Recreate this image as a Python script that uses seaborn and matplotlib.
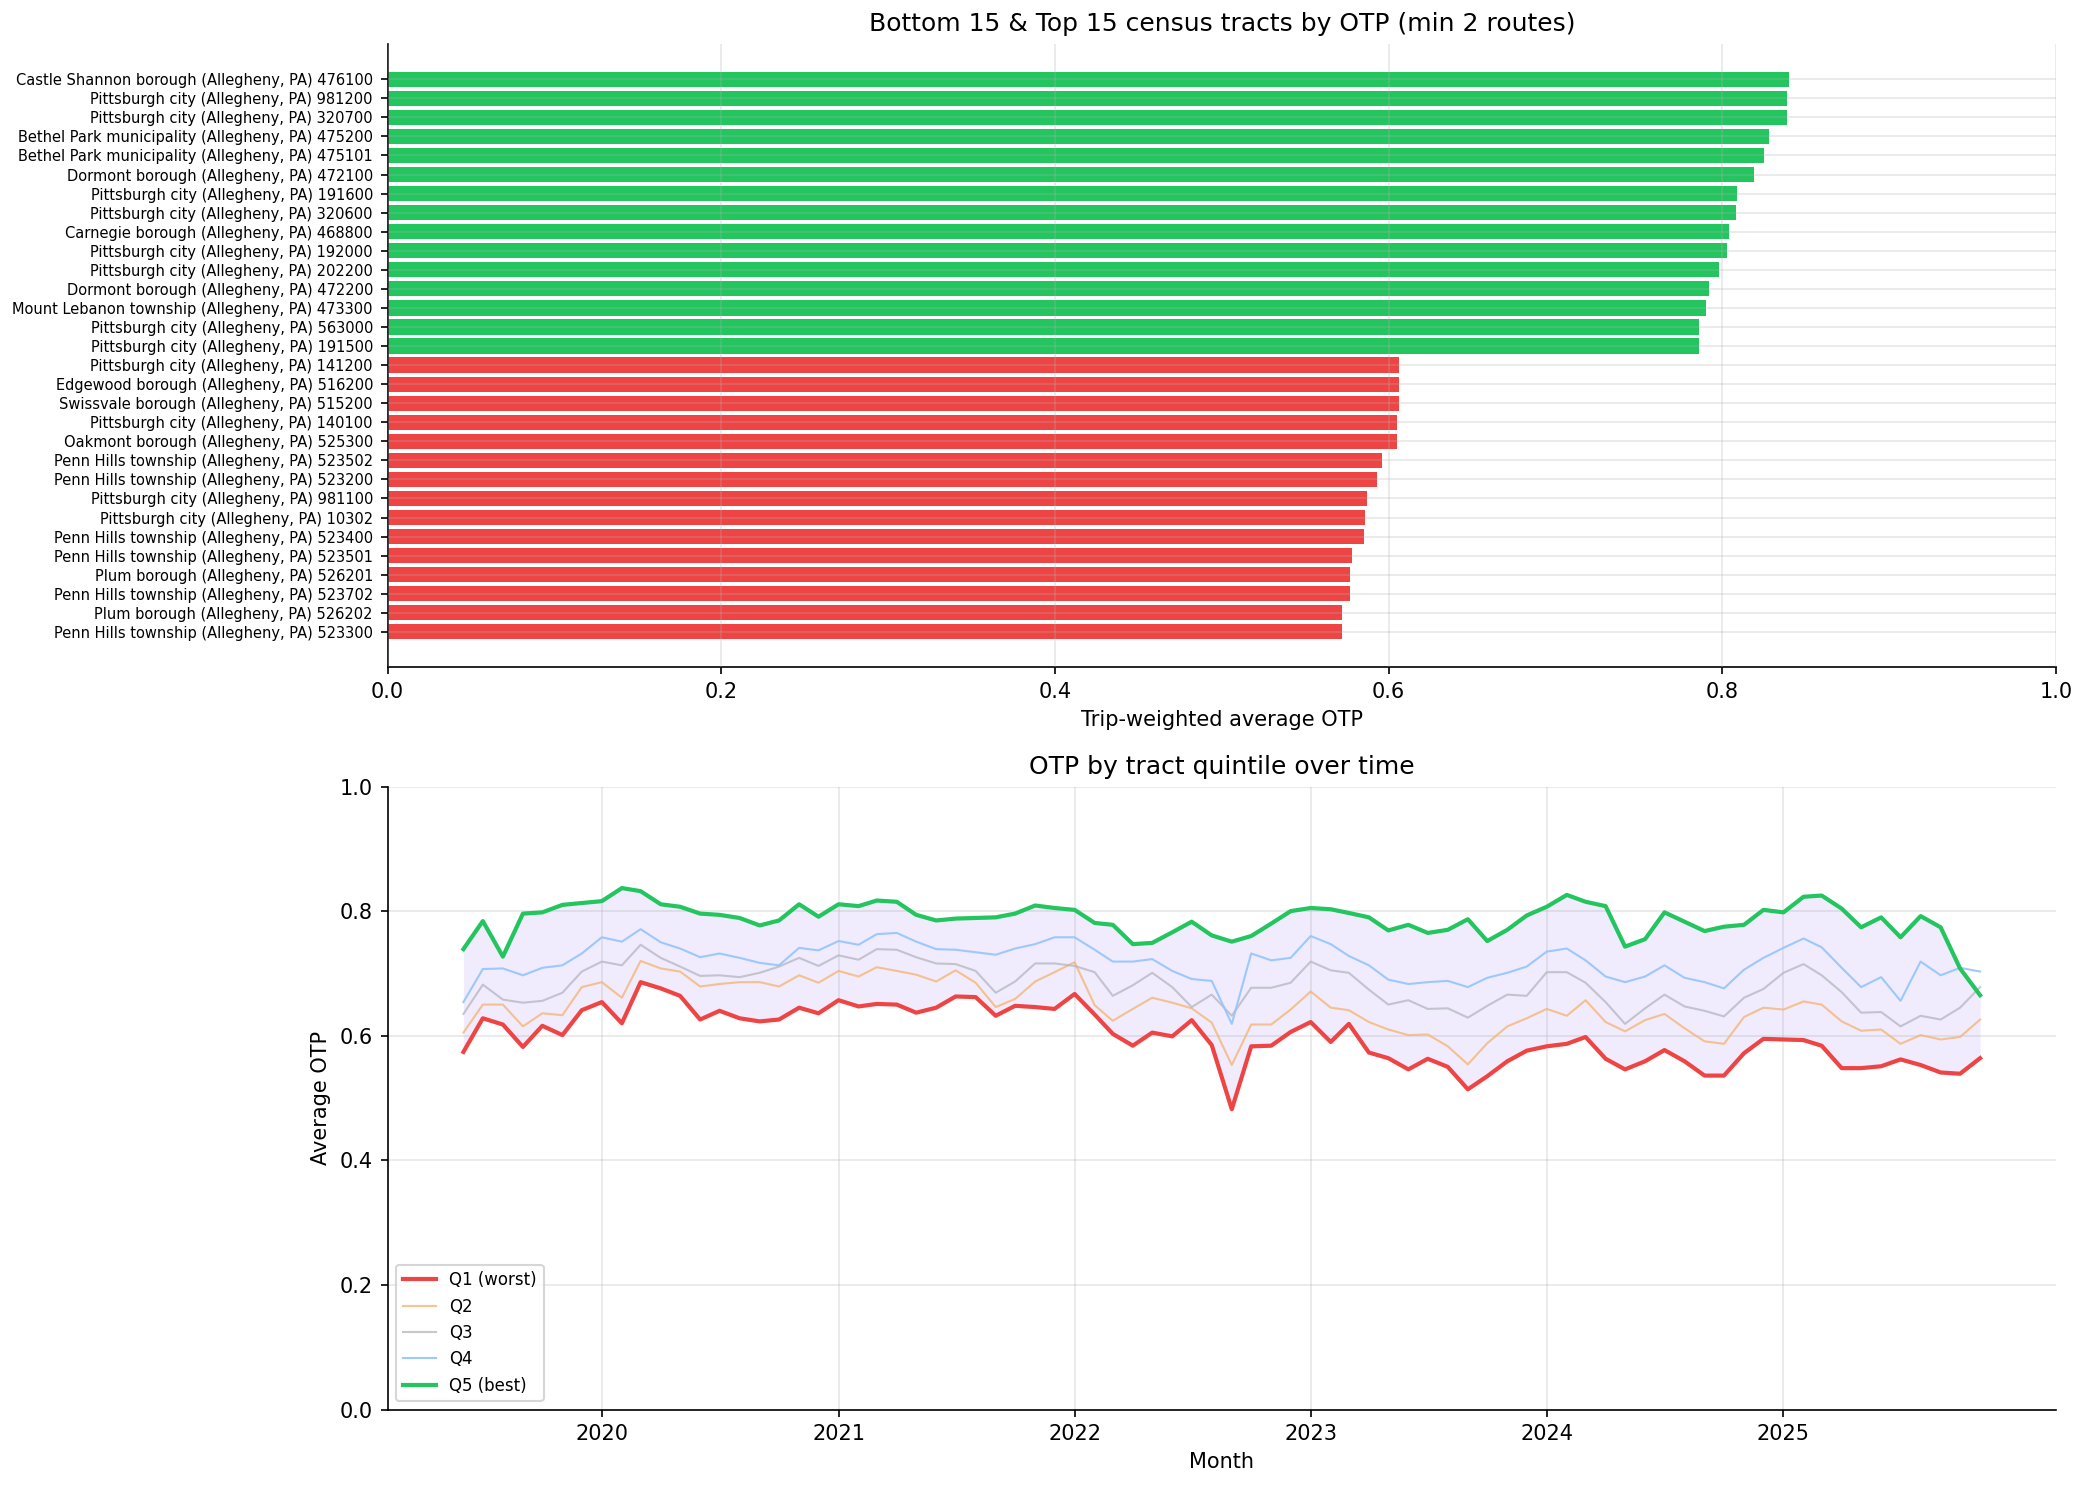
import numpy as np
import pandas as pd
import matplotlib
matplotlib.use("Agg")
import matplotlib.pyplot as plt
import seaborn as sns

# --- DATA: tract ranking (top 15 first, then bottom 15) ---
tract_labels = [
    "Castle Shannon borough (Allegheny, PA) 476100",
    "Pittsburgh city (Allegheny, PA) 981200",
    "Pittsburgh city (Allegheny, PA) 320700",
    "Bethel Park municipality (Allegheny, PA) 475200",
    "Bethel Park municipality (Allegheny, PA) 475101",
    "Dormont borough (Allegheny, PA) 472100",
    "Pittsburgh city (Allegheny, PA) 191600",
    "Pittsburgh city (Allegheny, PA) 320600",
    "Carnegie borough (Allegheny, PA) 468800",
    "Pittsburgh city (Allegheny, PA) 192000",
    "Pittsburgh city (Allegheny, PA) 202200",
    "Dormont borough (Allegheny, PA) 472200",
    "Mount Lebanon township (Allegheny, PA) 473300",
    "Pittsburgh city (Allegheny, PA) 563000",
    "Pittsburgh city (Allegheny, PA) 191500",
    "Pittsburgh city (Allegheny, PA) 141200",
    "Edgewood borough (Allegheny, PA) 516200",
    "Swissvale borough (Allegheny, PA) 515200",
    "Pittsburgh city (Allegheny, PA) 140100",
    "Oakmont borough (Allegheny, PA) 525300",
    "Penn Hills township (Allegheny, PA) 523502",
    "Penn Hills township (Allegheny, PA) 523200",
    "Pittsburgh city (Allegheny, PA) 981100",
    "Pittsburgh city (Allegheny, PA) 10302",
    "Penn Hills township (Allegheny, PA) 523400",
    "Penn Hills township (Allegheny, PA) 523501",
    "Plum borough (Allegheny, PA) 526201",
    "Penn Hills township (Allegheny, PA) 523702",
    "Plum borough (Allegheny, PA) 526202",
    "Penn Hills township (Allegheny, PA) 523300",
]
top_otp = [0.840, 0.839, 0.839, 0.828, 0.825, 0.819, 0.809, 0.808, 0.804,
           0.803, 0.798, 0.792, 0.790, 0.786, 0.786]
bottom_otp = [0.606, 0.606, 0.606, 0.605, 0.605, 0.596, 0.593, 0.587, 0.586,
              0.585, 0.578, 0.577, 0.577, 0.572, 0.572]

# --- DATA: monthly OTP per quintile (Jun 2019 - Nov 2025) ---
months = pd.date_range("2019-06-01", "2025-11-01", freq="MS")
year_ticks = pd.to_datetime(["2020-01-01", "2021-01-01", "2022-01-01",
                             "2023-01-01", "2024-01-01", "2025-01-01"])
year_labels = ["2020", "2021", "2022", "2023", "2024", "2025"]
q1 = [0.574, 0.628, 0.618, 0.582, 0.616, 0.601, 0.641, 0.654, 0.620, 0.686, 0.676, 0.664, 0.626, 0.640, 0.628, 0.623,
      0.626, 0.645, 0.636, 0.657, 0.647, 0.651, 0.650, 0.637, 0.645, 0.663, 0.662, 0.632, 0.648, 0.646, 0.643, 0.667,
      0.634, 0.603, 0.584, 0.605, 0.599, 0.625, 0.585, 0.482, 0.583, 0.584, 0.606, 0.622, 0.590, 0.619, 0.573, 0.564,
      0.546, 0.563, 0.550, 0.514, 0.535, 0.559, 0.576, 0.583, 0.587, 0.598, 0.563, 0.546, 0.559, 0.577, 0.559, 0.536,
      0.536, 0.572, 0.595, 0.594, 0.593, 0.584, 0.548, 0.548, 0.551, 0.562, 0.553, 0.541, 0.539, 0.564]
q2 = [0.605, 0.650, 0.650, 0.615, 0.636, 0.633, 0.678, 0.686, 0.661, 0.720, 0.708, 0.703, 0.679, 0.683, 0.686, 0.686,
      0.679, 0.697, 0.685, 0.704, 0.695, 0.710, 0.704, 0.698, 0.687, 0.705, 0.685, 0.646, 0.659, 0.687, 0.702, 0.718,
      0.649, 0.624, 0.643, 0.661, 0.653, 0.644, 0.621, 0.553, 0.618, 0.618, 0.642, 0.671, 0.645, 0.641, 0.622, 0.610,
      0.601, 0.602, 0.583, 0.554, 0.588, 0.615, 0.628, 0.643, 0.632, 0.657, 0.622, 0.607, 0.625, 0.635, 0.612, 0.591,
      0.587, 0.630, 0.645, 0.642, 0.655, 0.650, 0.623, 0.608, 0.610, 0.587, 0.601, 0.594, 0.598, 0.626]
q3 = [0.635, 0.682, 0.658, 0.653, 0.656, 0.669, 0.703, 0.719, 0.713, 0.746, 0.725, 0.711, 0.696, 0.697, 0.694, 0.701,
      0.711, 0.725, 0.712, 0.729, 0.722, 0.739, 0.738, 0.726, 0.716, 0.715, 0.704, 0.669, 0.687, 0.716, 0.716, 0.712,
      0.702, 0.664, 0.681, 0.701, 0.678, 0.646, 0.666, 0.632, 0.677, 0.677, 0.685, 0.719, 0.705, 0.701, 0.674, 0.650,
      0.657, 0.643, 0.644, 0.629, 0.648, 0.666, 0.664, 0.702, 0.702, 0.685, 0.654, 0.619, 0.644, 0.666, 0.647, 0.640,
      0.631, 0.661, 0.675, 0.701, 0.715, 0.697, 0.670, 0.637, 0.638, 0.615, 0.632, 0.626, 0.645, 0.678]
q4 = [0.654, 0.707, 0.708, 0.697, 0.709, 0.713, 0.732, 0.758, 0.751, 0.771, 0.750, 0.740, 0.726, 0.732, 0.725, 0.717,
      0.713, 0.741, 0.737, 0.752, 0.746, 0.763, 0.765, 0.751, 0.739, 0.738, 0.734, 0.730, 0.740, 0.747, 0.758, 0.758,
      0.738, 0.719, 0.719, 0.723, 0.704, 0.691, 0.688, 0.619, 0.732, 0.721, 0.725, 0.760, 0.747, 0.728, 0.713, 0.690,
      0.683, 0.686, 0.688, 0.678, 0.693, 0.701, 0.711, 0.735, 0.740, 0.721, 0.695, 0.686, 0.695, 0.713, 0.693, 0.686,
      0.676, 0.706, 0.725, 0.741, 0.756, 0.742, 0.709, 0.678, 0.694, 0.656, 0.719, 0.697, 0.709, 0.703]
q5 = [0.739, 0.784, 0.727, 0.796, 0.798, 0.810, 0.813, 0.816, 0.837, 0.832, 0.811, 0.807, 0.796, 0.794, 0.789, 0.777,
      0.785, 0.811, 0.791, 0.811, 0.808, 0.817, 0.815, 0.794, 0.785, 0.788, 0.789, 0.790, 0.796, 0.809, 0.805, 0.802,
      0.781, 0.778, 0.747, 0.749, 0.766, 0.783, 0.761, 0.751, 0.760, 0.780, 0.800, 0.805, 0.803, 0.797, 0.790, 0.769,
      0.778, 0.765, 0.770, 0.787, 0.752, 0.770, 0.793, 0.807, 0.826, 0.815, 0.808, 0.743, 0.755, 0.798, 0.783, 0.768,
      0.775, 0.778, 0.802, 0.798, 0.823, 0.825, 0.804, 0.774, 0.790, 0.758, 0.792, 0.774, 0.708, 0.665]

GREEN = "#22c55e"
RED = "#ef4444"

df_bars = pd.DataFrame({
    "tract": tract_labels,
    "otp": top_otp + bottom_otp,
    "group": ["top"] * len(top_otp) + ["bottom"] * len(bottom_otp),
})

fig, (ax1, ax2) = plt.subplots(2, 1, figsize=(13.9, 9.9), dpi=150)

# --- PLOT 1: bottom & top tracts ---
sns.barplot(data=df_bars, x="otp", y="tract", hue="group",
            palette={"top": GREEN, "bottom": RED}, dodge=False,
            width=0.8, legend=False, saturation=1, ax=ax1)
ax1.set_xlim(0, 1)
ax1.set_ylim(len(tract_labels) - 1 + 0.5 + 1.35, -0.5 - 1.35)
ax1.set_title("Bottom 15 & Top 15 census tracts by OTP (min 2 routes)", fontsize=12)
ax1.set_xlabel("Trip-weighted average OTP", fontsize=10)
ax1.set_ylabel("")
ax1.tick_params(axis="y", labelsize=7)
ax1.grid(True, alpha=0.3)
ax1.set_axisbelow(False)
ax1.spines["top"].set_visible(False)
ax1.spines["right"].set_visible(False)

# --- PLOT 2: quintiles over time ---
series = [
    ("Q1 (worst)", q1, RED, 2.0, 1.0),
    ("Q2", q2, "#f6b26b", 1.0, 0.75),
    ("Q3", q3, "#b3b6bf", 1.0, 0.75),
    ("Q4", q4, "#93c5fd", 1.0, 0.9),
    ("Q5 (best)", q5, GREEN, 2.0, 1.0),
]
ax2.fill_between(months, q1, q5, color="#8b5cf6", alpha=0.12, linewidth=0)
for name, vals, color, lw, a in series:
    sns.lineplot(x=months, y=vals, color=color, linewidth=lw, alpha=a,
                 label=name, ax=ax2)
ax2.set_xticks(year_ticks)
ax2.set_xticklabels(year_labels)
ax2.set_ylim(0, 1)
ax2.set_title("OTP by tract quintile over time", fontsize=12)
ax2.set_xlabel("Month", fontsize=10)
ax2.set_ylabel("Average OTP", fontsize=10)
ax2.grid(True, alpha=0.3)
ax2.legend(loc="lower left", fontsize=8)
ax2.spines["top"].set_visible(False)
ax2.spines["right"].set_visible(False)

plt.tight_layout(pad=0.6, h_pad=1.2)
plt.savefig("out.png", dpi=150)
